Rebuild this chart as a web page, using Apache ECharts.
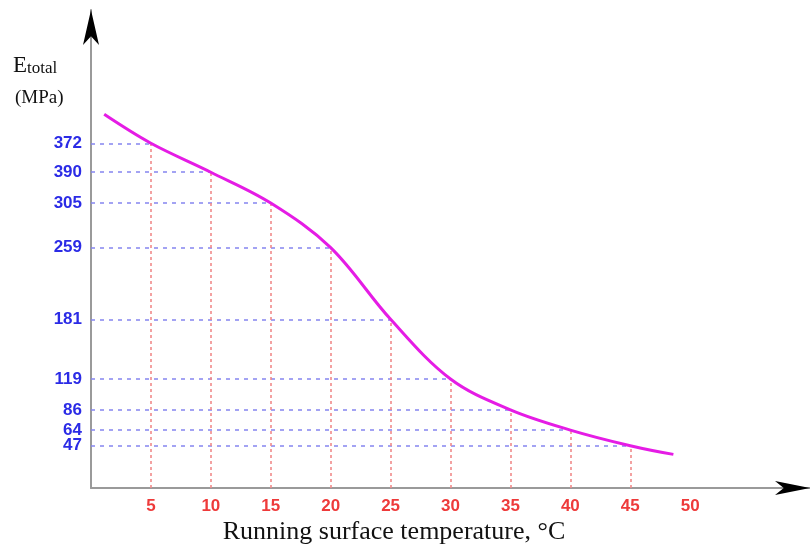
<!DOCTYPE html>
<html>
<head>
<meta charset="utf-8">
<script src="https://cdn.jsdelivr.net/npm/echarts@6/dist/echarts.min.js"></script>
<style>html,body{margin:0;padding:0;background:#fff}#c{width:810px;height:547px}</style>
</head>
<body>
<div id="c"></div>
<script>
// Temperature (°C) tick labels on x axis
const xTickValues = [5, 10, 15, 20, 25, 30, 35, 40, 45, 50];
// Y tick labels as printed and their positions (MPa scale)
const yTickLabels = ['372', '390', '305', '259', '181', '119', '86', '64', '47'];
const yTickPos = [375, 343.5, 310, 261.5, 183.5, 118.5, 85, 63, 46];
// Guide points (temperature where each horizontal guide meets the curve)
const guideX = [5, 10, 15, 20, 25, 30, 35, 40, 45];
// Curve
const curveX = [1.1, 5, 10, 15, 20, 25, 30, 35, 40, 45, 48.6];
const curveY = [406.5, 375, 343.5, 310, 261.5, 183.5, 118.5, 85, 63, 46, 36.6];

const X_MAX = 60, Y_MAX = 520;

const hLines = guideX.map((x, i) => [
  { coord: [0, yTickPos[i]], name: yTickLabels[i] },
  { coord: [x, yTickPos[i]] }
]);
const vLines = guideX.map((x, i) => [{ coord: [x, 0] }, { coord: [x, yTickPos[i]] }]);

const chart = echarts.init(document.getElementById('c'));
chart.setOption({
  animation: false,
  backgroundColor: '#fff',
  title: [
    {
      left: 8, top: 49,
      text: '{e|E}{s|total}',
      textStyle: {
        rich: {
          e: { fontFamily: 'Liberation Serif', fontSize: 23, fontWeight: 'normal', color: '#111', verticalAlign: 'bottom' },
          s: { fontFamily: 'Liberation Serif', fontSize: 17, fontWeight: 'normal', color: '#111', verticalAlign: 'bottom' }
        }
      }
    },
    {
      left: 10, top: 84,
      text: '(MPa)',
      textStyle: { fontFamily: 'Liberation Serif', fontSize: 19, fontWeight: 'normal', color: '#111' }
    },
    {
      left: 389, top: 514, textAlign: 'center',
      text: 'Running surface temperature, °C',
      textStyle: { fontFamily: 'Liberation Serif', fontSize: 26, fontWeight: 'normal', color: '#111' }
    }
  ],
  grid: { left: 91, right: 0, top: 10, bottom: 59, containLabel: false },
  xAxis: {
    type: 'value', min: 0, max: X_MAX,
    axisLine: { show: true, lineStyle: { color: '#9a9a9a', width: 2 } },
    axisTick: { show: false },
    splitLine: { show: false },
    axisLabel: {
      customValues: xTickValues, margin: 10, hideOverlap: false,
      color: '#ee3a3a', fontWeight: 'bold', fontSize: 17, fontFamily: 'Liberation Sans'
    }
  },
  yAxis: {
    type: 'value', min: 0, max: Y_MAX,
    axisLine: { show: true, lineStyle: { color: '#9a9a9a', width: 2 } },
    axisTick: { show: false },
    splitLine: { show: false },
    axisLabel: { show: false }
  },
  series: [
    {
      type: 'line', data: [], z: 1, silent: true,
      markLine: {
        silent: true, symbol: 'none', animation: false,
        label: {
          show: true, position: 'start', distance: 9, formatter: '{b}',
          color: '#2b2be6', fontWeight: 'bold', fontSize: 17, fontFamily: 'Liberation Sans'
        },
        lineStyle: { color: '#8585f0', type: [4, 5], width: 1.7 },
        data: hLines
      }
    },
    {
      type: 'line', data: [], z: 1, silent: true,
      markLine: {
        silent: true, symbol: 'none', animation: false,
        label: { show: false },
        lineStyle: { color: '#f08a8a', type: [3, 3], width: 1.6 },
        data: vLines
      }
    },
    {
      type: 'line', z: 5,
      data: curveX.map((x, i) => [x, curveY[i]]),
      smooth: 0.35,
      showSymbol: false,
      lineStyle: { color: '#e51ce5', width: 3 },
      markPoint: {
        silent: true, label: { show: false },
        itemStyle: { color: '#000' },
        data: [
          { coord: [0, Y_MAX], symbol: 'arrow', symbolSize: [12, 35], symbolOffset: [0, 0] },
          { coord: [X_MAX, 0], symbol: 'arrow', symbolSize: [10.5, 35], symbolRotate: -90, symbolOffset: [0, 0] }
        ]
      }
    }
  ]
});
</script>
</body>
</html>
